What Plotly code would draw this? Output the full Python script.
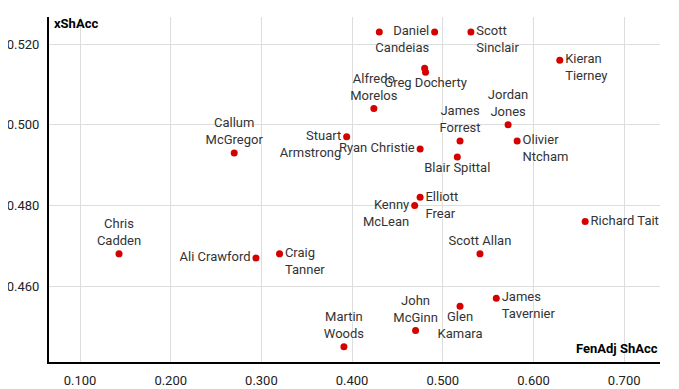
import plotly.graph_objects as go

players = ["Chris<br>Cadden", "Ali Crawford", "Craig<br>Tanner", "Callum<br>McGregor",
           "Stuart<br>Armstrong", "Ryan Christie", "Alfredo<br>Morelos", "",
           "Daniel<br>Candeias", "Scott<br>Sinclair", "", "Greg Docherty",
           "Kieran<br>Tierney", "Jordan<br>Jones", "James<br>Forrest", "Olivier<br>Ntcham",
           "Blair Spittal", "Elliott<br>Frear", "Kenny<br>McLean", "Richard Tait",
           "Scott Allan", "James<br>Tavernier", "Glen<br>Kamara", "John<br>McGinn",
           "Martin<br>Woods"]
fenadj_shacc = [0.143, 0.294, 0.320, 0.270,
                0.394, 0.475, 0.424, 0.430,
                0.491, 0.531, 0.480, 0.481,
                0.629, 0.572, 0.519, 0.582,
                0.516, 0.475, 0.469, 0.657,
                0.541, 0.559, 0.519, 0.470,
                0.391]
xshacc = [0.468, 0.467, 0.468, 0.493,
          0.497, 0.494, 0.504, 0.523,
          0.523, 0.523, 0.514, 0.513,
          0.516, 0.500, 0.496, 0.496,
          0.492, 0.482, 0.480, 0.476,
          0.468, 0.457, 0.455, 0.449,
          0.445]
label_pos = ["top center", "middle left", "middle right", "top center",
             "middle left", "middle left", "top center", "middle right",
             "middle left", "middle right", "middle right", "bottom center",
             "middle right", "top center", "top center", "middle right",
             "bottom center", "middle right", "middle left", "middle right",
             "top center", "middle right", "bottom center", "top center",
             "top center"]
x_ticks = [0.1, 0.2, 0.3, 0.4, 0.5, 0.6, 0.7]
y_ticks = [0.46, 0.48, 0.50, 0.52]

# side labels: first line level with the dot (pad with an empty line above)
display = [("&nbsp;<br>" + t) if (p.startswith("middle") and "<br>" in t) else t
           for t, p in zip(players, label_pos)]

fig = go.Figure()
fig.add_trace(go.Scatter(
    x=fenadj_shacc, y=xshacc, mode="markers+text",
    text=display, textposition=label_pos,
    textfont=dict(family="Roboto", size=13, color="#333333",
                  shadow="1px 1px 1px white"),
    marker=dict(color="#d50000", size=7),
    hoverinfo="skip", showlegend=False, cliponaxis=False,
))

fig.update_layout(
    width=671, height=381,
    margin=dict(l=41, r=19, t=9, b=27),
    paper_bgcolor="white", plot_bgcolor="white",
    font=dict(family="Roboto", size=13, color="#222222"),
    xaxis=dict(range=[0.0658, 0.7395], tickvals=x_ticks, tickformat=".3f",
               showgrid=True, gridcolor="#dddddd", gridwidth=1,
               showline=True, linecolor="black", linewidth=2,
               zeroline=False, ticks="", ticklabelstandoff=5, automargin=False),
    yaxis=dict(range=[0.4412, 0.5267], tickvals=y_ticks, tickformat=".3f",
               showgrid=True, gridcolor="#dddddd", gridwidth=1,
               showline=True, linecolor="black", linewidth=2,
               zeroline=False, ticks="", ticklabelstandoff=5, automargin=False),
    annotations=[
        dict(text="<b>xShAcc</b>", xref="paper", yref="paper", x=0.005, y=0.98,
             xanchor="left", yanchor="middle", showarrow=False,
             font=dict(family="Roboto", size=13, color="black")),
        dict(text="<b>FenAdj ShAcc</b>", xref="paper", yref="paper", x=1.0, y=0.04,
             xanchor="right", yanchor="middle", showarrow=False,
             font=dict(family="Roboto", size=13, color="black")),
    ],
)

fig.write_html("out.html")
